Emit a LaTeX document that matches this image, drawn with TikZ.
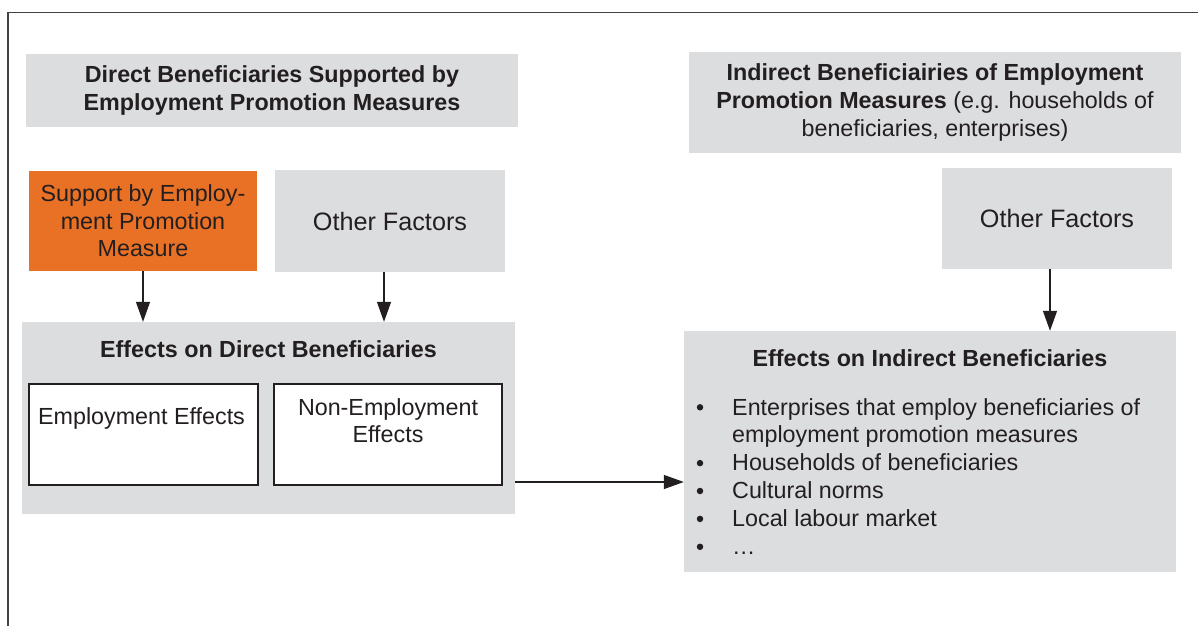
\documentclass[tikz,border=0pt]{standalone}
\usepackage{fontspec}
\setmainfont{Liberation Sans}
\usetikzlibrary{arrows.meta}
\definecolor{boxgray}{RGB}{220,221,223}
\definecolor{promo}{RGB}{233,113,37}
\definecolor{ink}{RGB}{35,31,32}
\newcommand{\txtsize}{\fontsize{23.3}{27.6}\selectfont}
\newcommand{\bigsize}{\fontsize{25.2}{30}\selectfont}
\begin{document}
\begin{tikzpicture}[x=1pt,y=-1pt,
  every node/.style={inner sep=0pt, text=ink, font=\txtsize},
  graybox/.style={fill=boxgray, draw=none, align=center},
  promobox/.style={fill=promo, draw=none, align=center},
  whitebox/.style={fill=white, draw=ink, line width=1.3pt},
  arr/.style={draw=ink, line width=1.3pt, -{Triangle[length=20pt,width=14pt]}},
  frame/.style={draw=ink!85, line width=1.5pt},
  item/.style={anchor=base west},
  dot/.style={circle, fill=ink, minimum size=6.5pt}
]
\useasboundingbox (0,0) rectangle (1198,626);

% outer frame (open at the bottom and right)
\coordinate (fbl) at (8,626);
\coordinate (ftl) at (8,12.7);
\coordinate (ftr) at (1198,12.7);
\draw[frame] (fbl) -- (ftl) -- (ftr);

% left column: direct beneficiaries
\node[graybox, minimum width=492pt, minimum height=73pt] (ta) at (272,90.5)
  {\textbf{Direct Beneficiaries Supported by}\\\textbf{Employment Promotion Measures}};
\node[promobox, minimum width=228pt, minimum height=100pt] (sup) at (143,221)
  {Support by Employ-\\ment Promotion\\Measure};
\node[graybox, minimum width=230pt, minimum height=102pt, font=\bigsize] (of1) at (390,221)
  {Other Factors};
\node[graybox, minimum width=493pt, minimum height=192pt] (effd) at (268.5,418) {};
\node (effdt) at (268.5,349) {\textbf{Effects on Direct Beneficiaries}};
\node[whitebox, minimum width=229pt, minimum height=101pt] (ee) at (143.5,434.5) {};
\node (eet) at (141.5,418) {Employment Effects};
\node[whitebox, minimum width=228pt, minimum height=101pt] (ne) at (388,434.5) {};
\node[align=center] (net) at (388,420.5) {Non-Employment\\Effects};

% right column: indirect beneficiaries
\node[graybox, minimum width=492pt, minimum height=101pt] (tb) at (935,102.5)
  {\textbf{Indirect Beneficiairies of Employment}\\\textbf{Promotion Measures} (e.g. households of\\beneficiaries, enterprises)};
\node[graybox, minimum width=230pt, minimum height=101pt, font=\bigsize] (of2) at (1057,218.5)
  {Other Factors};
\node[graybox, minimum width=492pt, minimum height=241pt] (effi) at (930,451.5) {};
\node (effit) at (930,358) {\textbf{Effects on Indirect Beneficiaries}};

% bullet list
\node[dot] (b1) at (700,407.3) {};
\node[item] (l1) at (732,415) {Enterprises that employ beneficiaries of};
\node[item] (l1b) at (732,442.9) {employment promotion measures};
\node[dot] (b2) at (700,463.1) {};
\node[item] (l2) at (732,470.8) {Households of beneficiaries};
\node[dot] (b3) at (700,491) {};
\node[item] (l3) at (732,498.7) {Cultural norms};
\node[dot] (b4) at (700,518.9) {};
\node[item] (l4) at (732,526.6) {Local labour market};
\node[dot] (b5) at (700,546.8) {};
\node[item] (l5) at (732,554.5) {…};

% connectors
\draw[arr] (sup.south) -- (sup.south |- effd.north);
\draw[arr] ([xshift=-6pt]of1.south) -- ([xshift=-6pt]of1.south |- effd.north);
\draw[arr] ([xshift=-7pt]of2.south) -- ([xshift=-7pt]of2.south |- effi.north);
\draw[arr] ([yshift=-64pt]effd.east) -- ([yshift=-64pt]effd.east -| effi.west);
\end{tikzpicture}
\end{document}
